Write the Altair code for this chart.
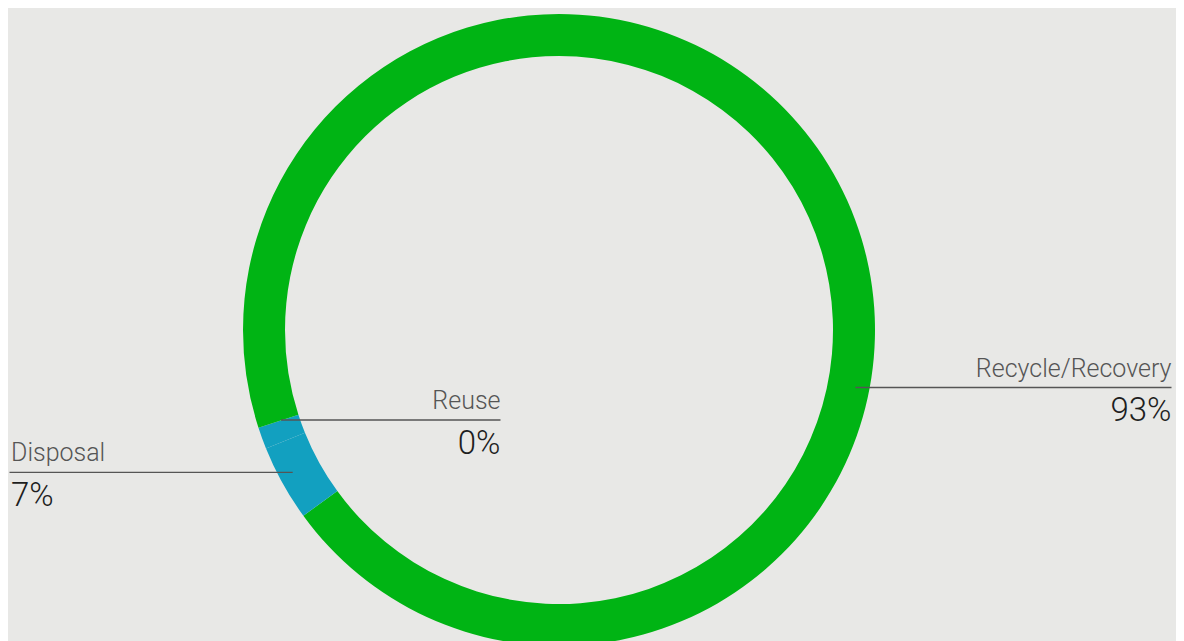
import altair as alt
import pandas as pd

# Arc segments (degrees of the ring, clockwise from 12 o'clock)
seg_names = ["Recycle/Recovery", "Disposal", "Reuse", "Recycle/Recovery (b)", "Recycle/Recovery (c)"]
seg_values = [234, 14, 4, 18, 90]
seg_group = ["Recycle/Recovery", "Disposal", "Disposal", "Recycle/Recovery", "Recycle/Recovery"]

# Labels
label_names = ["Recycle/Recovery", "Reuse", "Disposal"]
label_pcts = ["93%", "0%", "7%"]

# layout (page pixel positions, minus 8px page margin)
lab_anchor = [1163.5, 492.5, 3]
lab_x0 = [847.5, 273, 1.5]
lab_x1 = [1163.5, 492.5, 284.7]
lab_y_rule = [379.5, 412, 464.3]
lab_align = ["right", "right", "left"]

W, H = 1168, 633
CX, CY = 551, 322
FONT = "Roboto"

arcs = pd.DataFrame({"seg": seg_names, "val": seg_values, "grp": seg_group,
                     "ord": list(range(len(seg_names)))})

arc = alt.Chart(arcs).mark_arc(radius=316, radius2=274, x=CX, y=CY).encode(
    theta=alt.Theta("val:Q", stack=True),
    order=alt.Order("ord:Q"),
    color=alt.Color("grp:N", scale=alt.Scale(domain=["Recycle/Recovery", "Disposal"],
                                              range=["#00b414", "#12a0c0"]), legend=None),
)

lab = pd.DataFrame({
    "name": label_names, "pct": label_pcts,
    "x0": lab_x0, "x1": lab_x1, "xa": lab_anchor, "y": lab_y_rule, "align": lab_align,
})
lab["yt"] = lab["y"] - 11
lab["yp"] = lab["y"] + 33.5

xs = alt.Scale(domain=[0, W], range=[0, W])
ys = alt.Scale(domain=[0, H], range=[0, H])

rules = alt.Chart(lab).mark_rule(color="#555555", strokeWidth=1.3).encode(
    x=alt.X("x0:Q", scale=xs, axis=None), x2="x1:Q",
    y=alt.Y("y:Q", scale=ys, axis=None),
)

def texts(align):
    base = alt.Chart(lab[lab["align"] == align])
    t1 = base.mark_text(align=align, baseline="alphabetic", font=FONT, fontWeight=300,
                        fontSize=25, color="#555555").encode(
        x=alt.X("xa:Q", scale=xs, axis=None), y=alt.Y("yt:Q", scale=ys, axis=None), text="name:N")
    t2 = base.mark_text(align=align, baseline="alphabetic", font=FONT, fontWeight=300,
                        fontSize=33, color="#1e1e1e").encode(
        x=alt.X("xa:Q", scale=xs, axis=None), y=alt.Y("yp:Q", scale=ys, axis=None), text="pct:N")
    return [t1, t2]

chart = alt.layer(arc, rules, *texts("right"), *texts("left")).properties(
    width=W, height=H, padding=0, autosize=alt.AutoSizeParams(type="none"),
    background="#e8e8e6",
).configure_view(stroke=None)

chart.save("out.html", embed_options={"renderer": "svg", "actions": False})
